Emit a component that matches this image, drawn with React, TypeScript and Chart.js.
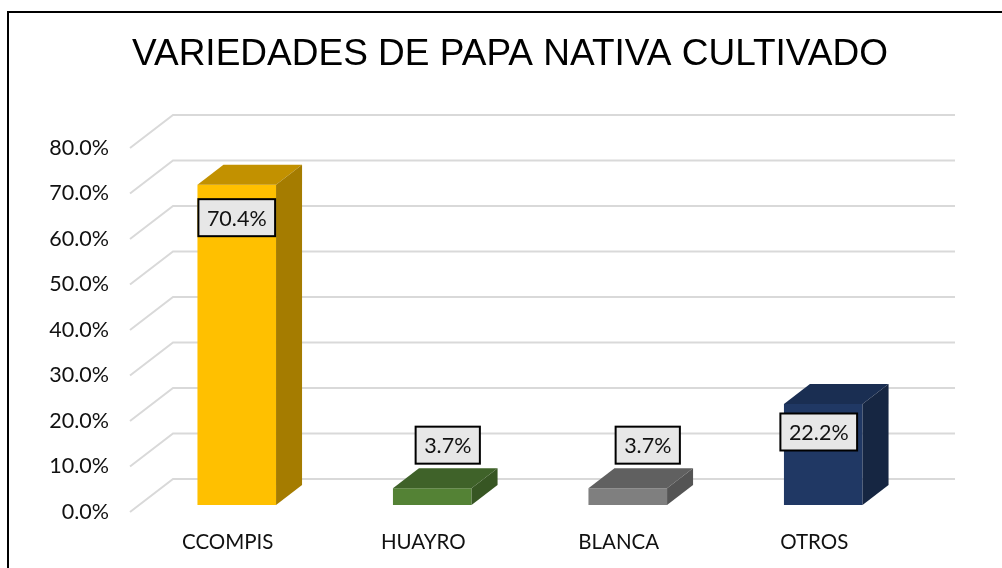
import React, { useEffect, useRef } from "react";
import { Chart, registerables } from "chart.js";

Chart.register(...registerables);

const titleText = "VARIEDADES DE PAPA NATIVA CULTIVADO";
const categories = ["CCOMPIS", "HUAYRO", "BLANCA", "OTROS"];
const values = [70.4, 3.7, 3.7, 22.2];
const frontColors = ["#FFC000", "#548235", "#7F7F7F", "#203864"];
const topColors = ["#C29100", "#3F6229", "#606060", "#1A2E52"];
const sideColors = ["#A57C00", "#375623", "#545454", "#162642"];
const labelOffsets = [
  [0, 33],
  [15.5, -43],
  [20, -43],
  [-4.5, 28],
];

const BAR_SHIFT = { x: 9, y: -7 };
const BAR_DEPTH = { x: 26, y: -20 };
const WALL_DEPTH = { x: 43, y: -33 };

const frame3d = {
  id: "frame3d",
  beforeDraw(chart: any) {
    const { ctx, width } = chart;
    ctx.save();
    ctx.strokeStyle = "#000";
    ctx.lineWidth = 2;
    ctx.beginPath();
    ctx.moveTo(8, chart.height);
    ctx.lineTo(8, 12);
    ctx.lineTo(width, 12);
    ctx.stroke();
    ctx.restore();
  },
  beforeDatasetsDraw(chart: any) {
    const { ctx, chartArea, scales } = chart;
    ctx.save();
    ctx.strokeStyle = "#D9D9D9";
    ctx.lineWidth = 2;
    scales.y.ticks.forEach((t: any) => {
      const y = scales.y.getPixelForValue(t.value);
      ctx.beginPath();
      ctx.moveTo(chartArea.left, y);
      ctx.lineTo(chartArea.left + WALL_DEPTH.x, y + WALL_DEPTH.y);
      ctx.lineTo(chartArea.right + WALL_DEPTH.x, y + WALL_DEPTH.y);
      ctx.stroke();
    });
    ctx.restore();
  },
  beforeDatasetDraw(chart: any) {
    chart.ctx.save();
    chart.ctx.translate(BAR_SHIFT.x, BAR_SHIFT.y);
  },
  afterDatasetDraw(chart: any, args: any) {
    const { ctx } = chart;
    args.meta.data.forEach((bar: any, i: number) => {
      const { x, y, base, width } = bar.getProps(["x", "y", "base", "width"], true);
      const l = x - width / 2;
      const r = x + width / 2;
      ctx.fillStyle = topColors[i];
      ctx.beginPath();
      ctx.moveTo(l, y);
      ctx.lineTo(r, y);
      ctx.lineTo(r + BAR_DEPTH.x, y + BAR_DEPTH.y);
      ctx.lineTo(l + BAR_DEPTH.x, y + BAR_DEPTH.y);
      ctx.closePath();
      ctx.fill();
      ctx.fillStyle = sideColors[i];
      ctx.beginPath();
      ctx.moveTo(r, y);
      ctx.lineTo(r + BAR_DEPTH.x, y + BAR_DEPTH.y);
      ctx.lineTo(r + BAR_DEPTH.x, base + BAR_DEPTH.y);
      ctx.lineTo(r, base);
      ctx.closePath();
      ctx.fill();
    });
    ctx.restore();
  },
  afterDatasetsDraw(chart: any) {
    const { ctx } = chart;
    const meta = chart.getDatasetMeta(0);
    ctx.save();
    ctx.font = "21.5px Lato";
    ctx.textAlign = "center";
    ctx.textBaseline = "middle";
    meta.data.forEach((bar: any, i: number) => {
      const { x, y } = bar.getProps(["x", "y"], true);
      const cx = x + BAR_SHIFT.x + labelOffsets[i][0];
      const cy = y + BAR_SHIFT.y + labelOffsets[i][1];
      const text = values[i].toFixed(1) + "%";
      const w = ctx.measureText(text).width + 17;
      const h = 37;
      ctx.fillStyle = "#E7E7E7";
      ctx.strokeStyle = "#000";
      ctx.lineWidth = 2;
      ctx.fillRect(cx - w / 2, cy - h / 2, w, h);
      ctx.strokeRect(cx - w / 2, cy - h / 2, w, h);
      ctx.fillStyle = "#111";
      ctx.fillText(text, cx, cy + 1);
    });
    ctx.restore();
  },
};

export default function App() {
  const ref = useRef<HTMLCanvasElement | null>(null);
  useEffect(() => {
    const chart = new Chart(ref.current as HTMLCanvasElement, {
      type: "bar",
      data: {
        labels: categories,
        datasets: [
          {
            data: values,
            backgroundColor: frontColors,
            categoryPercentage: 1,
            barPercentage: 0.402,
          },
        ],
      },
      options: {
        responsive: false,
        animation: false,
        layout: { padding: { left: 18, right: 0, top: 0, bottom: 0 } },
        plugins: {
          legend: { display: false },
          tooltip: { enabled: false },
          title: {
            display: true,
            text: titleText,
            color: "#000",
            font: { family: "'Liberation Sans'", size: 37, weight: "normal", lineHeight: 1.2 },
            padding: { top: 33, bottom: 70.6 },
          },
        },
        scales: {
          x: {
            grid: { display: false },
            border: { display: false },
            ticks: {
              color: "#111",
              font: { family: "Lato", size: 20.5 },
              padding: 10,
              maxRotation: 0,
            },
            afterFit(scale: any) {
              scale.height = 56;
            },
          },
          y: {
            min: 0,
            max: 80,
            grid: { display: false },
            border: { display: false },
            ticks: {
              stepSize: 10,
              color: "#111",
              padding: 13,
              font: { family: "Lato", size: 21.5 },
              callback: (v: any) => Number(v).toFixed(1) + "%",
            },
            afterFit(scale: any) {
              scale.width = 112;
            },
          },
          spacer: {
            type: "linear",
            position: "right",
            grid: { display: false },
            border: { display: false },
            ticks: { display: false },
            afterFit(scale: any) {
              scale.width = 90;
            },
          },
        },
      },
      plugins: [frame3d],
    } as any);
    return () => chart.destroy();
  }, []);
  return (
    <div style={{ position: "fixed", left: 0, top: 0, width: 1002, height: 568, background: "#fff" }}>
      <canvas ref={ref} width={1002} height={568} style={{ display: "block" }} />
    </div>
  );
}
